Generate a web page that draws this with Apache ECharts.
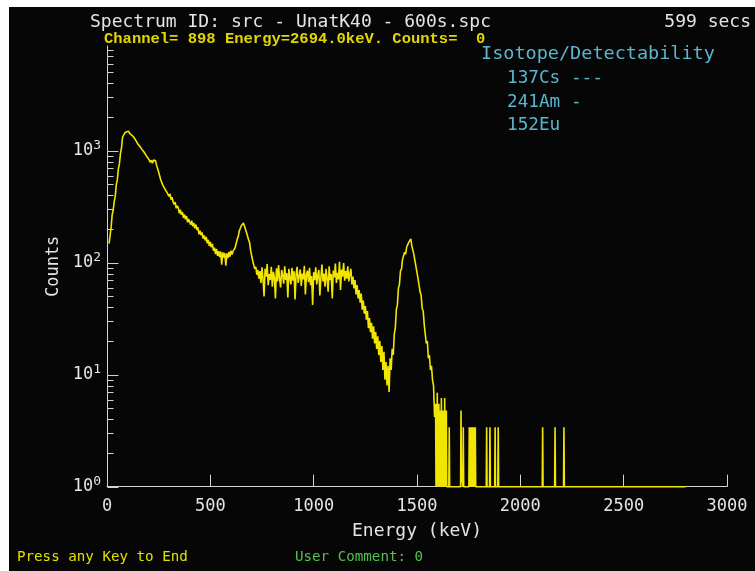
<!DOCTYPE html>
<html>
<head>
<meta charset="utf-8">
<script src="https://cdn.jsdelivr.net/npm/echarts@6/dist/echarts.min.js"></script>
<style>
  html, body { margin: 0; padding: 0; background: #ffffff; }
  #screen { position: absolute; left: 9px; top: 7px; width: 746px; height: 564px; background: #060606; }
  #chart { position: absolute; left: 0; top: 0; width: 755px; height: 571px; }
</style>
</head>
<body>
<div id="screen"></div>
<div id="chart"></div>
<script>
// Gamma spectrum, counts per 5 keV bin starting at 10 keV.
const binStartKeV = 10;
const binWidthKeV = 5;

// 10-300 keV: low-energy scatter hump
const countsLowEnergy = [
  148, 176, 208, 268, 294, 352, 391, 497, 548, 689,
  762, 941, 1052, 1312, 1338, 1431, 1392, 1478, 1421, 1489,
  1418, 1467, 1376, 1402, 1318, 1335, 1229, 1248, 1141, 1162,
  1087, 1102, 1021, 1039, 968, 981, 902, 927, 849, 856,
  788, 823, 771, 826, 794, 812, 739, 744, 641, 632,
  551, 559, 492, 507, 455, 468, 424, 437, 391
];
// 305-600 keV: Compton continuum
const countsCompton = [
  412, 366, 384, 349, 331, 347, 306, 322, 309, 276,
  297, 268, 283, 251, 269, 244, 261, 229, 246, 241,
  218, 237, 211, 226, 203, 219, 196, 207, 179, 193,
  176, 186, 164, 175, 158, 170, 149, 160, 141, 153,
  137, 147, 128, 136, 119, 133, 115, 127, 112, 126,
  96, 124, 111, 122, 94, 121, 110, 125, 113, 128
];
// 605-735 keV: 662 keV line
const countsCsPeak = [
  118, 127, 122, 136, 141, 162, 171, 192, 198, 214,
  209, 226, 213, 208, 186, 181, 160, 151, 128, 124,
  104, 106, 88, 92, 78, 86, 72
];
// 740-1150 keV: plateau
const countsPlateau = [
  84, 66, 91, 71, 50, 88, 75, 97, 63, 79,
  70, 92, 61, 83, 74, 48, 89, 68, 95, 72,
  60, 86, 77, 65, 93, 70, 81, 49, 88, 73,
  64, 90, 69, 84, 47, 79, 92, 66, 75, 87,
  62, 80, 71, 94, 52, 78, 85, 67, 90, 63,
  76, 42, 82, 70, 91, 64, 77, 86, 51, 74,
  96, 68, 80, 61, 88, 72, 55, 93, 70, 79,
  48, 85, 74, 98, 66, 81, 71, 102, 57, 87,
  75, 99, 69
];
// 1155-1370 keV: Compton edge of the 1461 keV line
const countsComptonEdge = [
  84, 72, 93, 68, 79, 88, 64, 75, 59, 70,
  52, 63, 48, 57, 44, 53, 38, 46, 35, 41,
  31, 37, 26, 32, 24, 29, 21, 27, 19, 24,
  17, 22, 15, 20, 13, 18, 11, 16, 9, 13,
  8, 12, 7, 14
];
// 1375-1590 keV: 1461 keV (K-40) line
const countsKPeak = [
  11, 17, 15, 23, 26, 38, 42, 59, 64, 84,
  88, 107, 104, 124, 119, 138, 133, 152, 149, 163,
  141, 143, 118, 114, 92, 91, 72, 70, 55, 51,
  39, 37, 28, 27, 19, 20, 14, 15, 11, 12,
  9, 8, 4.2, 5.5
];

// Above 1590 keV the spectrum is single channels: [keV, counts]
const sparseChannels = [
  [1592, 1], [1594, 4.8], [1596, 1], [1598, 6.9], [1600, 1.3], [1602, 4.8],
  [1604, 1], [1606, 5.5], [1608, 1], [1610, 4.8], [1612, 2.2], [1614, 4.8],
  [1616, 1], [1618, 6.2], [1620, 1], [1622, 4.8], [1624, 1.5], [1626, 4.8],
  [1628, 1], [1630, 4.8], [1632, 1], [1634, 6.2], [1636, 1], [1638, 4.8],
  [1640, 1.2], [1642, 4.8], [1644, 1],
  [1654, 1], [1656, 3.4], [1658, 1],
  [1711, 1], [1713, 4.8], [1715, 1.3], [1722, 1], [1724, 3.4], [1726, 1],
  [1751, 1], [1753, 3.4], [1755, 1], [1757, 1], [1759, 3.4], [1761, 1],
  [1762, 1], [1764, 3.4], [1766, 1], [1768, 1], [1770, 3.4], [1772, 1],
  [1774, 1], [1776, 3.4], [1778, 1], [1780, 1], [1782, 3.4], [1784, 1],
  [1835, 1], [1837, 3.4], [1839, 1], [1851, 1], [1853, 3.4], [1855, 1],
  [1876, 1], [1878, 3.4], [1880, 1], [1891, 1], [1893, 3.4], [1895, 1],
  [2106, 1], [2108, 3.4], [2110, 1], [2166, 1], [2168, 3.4], [2170, 1],
  [2209, 1], [2211, 3.4], [2213, 1], [2800, 1]
];

const energyRange = [0, 3000];
const energyStep = 500;
const countsRange = [1, 8600];
const countDecades = [1, 10, 100, 1000];

const isotopeRows = ['137Cs ---', '241Am -', '152Eu'];

const mono = '"DejaVu Sans Mono", monospace';
const axisColor = '#d4d4d4';
const textColor = '#e4e4e4';
const traceColor = '#f2e500';

const binnedCounts = [].concat(countsLowEnergy, countsCompton, countsCsPeak,
  countsPlateau, countsComptonEdge, countsKPeak);
const spectrum = binnedCounts.map((c, i) => [binStartKeV + i * binWidthKeV, c]).concat(sparseChannels);

// log-axis tick marks: long at each decade, short at 2..9 x decade
const yTicks = [];
countDecades.forEach(d => {
  yTicks.push([0, d, 11]);
  for (let m = 2; m <= 9; m++) {
    if (m * d <= countsRange[1]) yTicks.push([0, m * d, 6]);
  }
});

const chart = echarts.init(document.getElementById('chart'), null, { renderer: 'canvas' });

function txt(text, x, y, font, fill, align) {
  return {
    type: 'text', x: x, y: y, silent: true,
    style: { text: text, font: font, fill: fill, textAlign: align || 'left', textVerticalAlign: 'middle' }
  };
}

chart.setOption({
  backgroundColor: 'transparent',
  animation: false,
  grid: { left: 107, top: 46, width: 620, height: 440.7, containLabel: false },
  xAxis: {
    type: 'value', min: energyRange[0], max: energyRange[1], interval: energyStep,
    axisLine: { lineStyle: { color: axisColor, width: 1 } },
    axisTick: { inside: true, length: 12, lineStyle: { color: axisColor } },
    splitLine: { show: false },
    axisLabel: {
      color: textColor, fontFamily: mono, fontSize: 17, margin: 11,
      formatter: function (v) { return String(v); }
    },
    name: 'Energy (keV)', nameLocation: 'middle', nameGap: 36,
    nameTextStyle: { color: textColor, fontFamily: mono, fontSize: 18 }
  },
  yAxis: {
    type: 'log', logBase: 10, min: countsRange[0], max: countsRange[1],
    axisLine: { lineStyle: { color: axisColor, width: 1 } },
    axisTick: { show: false },
    minorTick: { show: false },
    splitLine: { show: false },
    axisLabel: {
      margin: 6,
      showMaxLabel: false,
      formatter: function (v) {
        const e = Math.log10(v);
        const r = Math.round(e);
        if (Math.abs(e - r) > 1e-6) return '';
        return '{b|10}{s|' + r + '}';
      },
      rich: {
        b: { color: textColor, fontFamily: mono, fontSize: 17 },
        s: { color: textColor, fontFamily: mono, fontSize: 13, padding: [0, 0, 10, 0] }
      }
    },
    name: 'Counts', nameLocation: 'middle', nameGap: 42, nameRotate: 90,
    nameTextStyle: { color: textColor, fontFamily: mono, fontSize: 17 }
  },
  series: [
    {
      type: 'custom',
      silent: true,
      clip: false,
      z: 1,
      data: yTicks,
      encode: { x: 0, y: 1 },
      renderItem: function (params, api) {
        const p = api.coord([api.value(0), api.value(1)]);
        const len = api.value(2);
        const y = Math.round(p[1]) + 0.5;
        const x = Math.round(p[0]) + 0.5;
        return {
          type: 'line',
          shape: { x1: x, y1: y, x2: x + len, y2: y },
          style: { stroke: axisColor, lineWidth: 1 }
        };
      }
    },
    {
      type: 'line',
      data: spectrum,
      showSymbol: false,
      symbol: 'none',
      clip: false,
      silent: true,
      z: 3,
      lineStyle: { color: traceColor, width: 1.6 }
    }
  ],
  graphic: [
    txt('Spectrum ID: src - UnatK40 - 600s.spc', 90, 22, '18px ' + mono, textColor),
    txt('599 secs', 751, 22, '18px ' + mono, textColor, 'right'),
    txt('Channel= 898 Energy=2694.0keV. Counts=  0', 104, 39, 'bold 15.5px "Liberation Mono", monospace', '#e2d800'),
    txt('Isotope/Detectability', 481, 54, '18.5px ' + mono, '#5ab6cf'),
    txt(isotopeRows[0], 507, 78, '17.7px ' + mono, '#5ab6cf'),
    txt(isotopeRows[1], 507, 102, '17.7px ' + mono, '#5ab6cf'),
    txt(isotopeRows[2], 507, 125, '17.7px ' + mono, '#5ab6cf'),
    txt('Press any Key to End', 17, 557, '14.2px ' + mono, '#e2e000'),
    txt('User Comment: 0', 295, 557, '14.2px ' + mono, '#52c24c')
  ]
});
</script>
</body>
</html>
